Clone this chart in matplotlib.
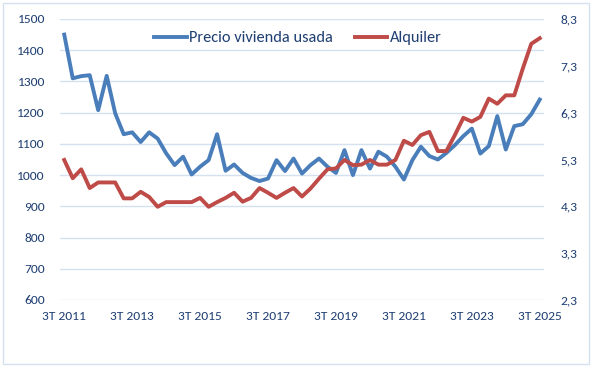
import matplotlib.pyplot as plt
import matplotlib.ticker as mticker

# ------------------------- Data ------------------------- #
years = list(range(2011, 2026))

# precio vivienda usada (eje izquierdo)
precio = [1450, 1310, 1317, 1320, 1208, 1318, 1198, 1131, 1137, 1106,
          1137, 1117, 1070, 1032, 1059, 1002, 1027, 1048, 1131, 1014,
          1034, 1007, 991, 981, 989, 1048, 1013, 1053, 1005, 1032,
          1053, 1027, 1007, 1080, 1000, 1080, 1021, 1075, 1059, 1027,
          986, 1048, 1091, 1061, 1050, 1071, 1096, 1125, 1149, 1069,
          1093, 1189, 1082, 1157, 1163, 1195, 1242]

# alquiler (eje derecho)
alquiler = [5.29, 4.90, 5.09, 4.69, 4.81, 4.81, 4.81, 4.47, 4.47, 4.61,
            4.50, 4.29, 4.39, 4.39, 4.39, 4.39, 4.48, 4.29, 4.39, 4.48,
            4.59, 4.40, 4.48, 4.69, 4.59, 4.48, 4.59, 4.69, 4.51, 4.68,
            4.89, 5.09, 5.11, 5.29, 5.18, 5.19, 5.29, 5.19, 5.19, 5.29,
            5.70, 5.61, 5.82, 5.89, 5.48, 5.48, 5.82, 6.19, 6.11, 6.21,
            6.60, 6.49, 6.67, 6.67, 7.24, 7.77, 7.89]

left_ticks = [600, 700, 800, 900, 1000, 1100, 1200, 1300, 1400, 1500]
right_ticks = [2.3, 3.3, 4.3, 5.3, 6.3, 7.3, 8.3]

# quarter labels 3T 2011 .. 3T 2025
labels = []
for y in years:
    for q in range(1, 5):
        if (y == 2011 and q < 3) or (y == 2025 and q > 3):
            continue
        labels.append(f"{q}T {y}")

# ------------------------- Style ------------------------- #
BLUE = "#4a7ebb"
RED = "#be4b48"
TXT = "#1f3f73"
GRID = "#d6e1f0"

plt.rcParams['font.family'] = ['Carlito', 'Lato', 'DejaVu Sans']

fig = plt.figure(figsize=(5.92, 3.67), dpi=100)
ax = fig.add_axes([60 / 592, 1 - 300 / 367, 484 / 592, 281 / 367])
ax2 = ax.twinx()

x = list(range(len(labels)))
l1, = ax.plot(x, precio, color=BLUE, lw=2.8, solid_joinstyle='round', label='Precio vivienda usada')
l2, = ax2.plot(x, alquiler, color=RED, lw=2.8, solid_joinstyle='round', label='Alquiler')

ax.set_ylim(600, 1500)
ax2.set_ylim(2.3, 8.3)
ax.set_xlim(-0.5, len(labels) - 0.5)
ax.set_yticks(left_ticks)
ax2.set_yticks(right_ticks)
ax2.yaxis.set_major_formatter(mticker.FuncFormatter(lambda v, p: f"{v:.1f}".replace('.', ',')))

ax.set_xticks(x[::8])
ax.set_xticklabels(labels[::8])

ax.grid(axis='y', color=GRID, lw=1)
ax.set_axisbelow(True)
for a in (ax, ax2):
    for s in a.spines.values():
        s.set_visible(False)
    a.tick_params(length=0, colors=TXT, labelsize=9.7)
ax.tick_params(axis='y', pad=11)
ax.tick_params(axis='x', pad=8)
ax2.tick_params(axis='y', pad=12)

fig.legend(handles=[l1, l2], loc='center', bbox_to_anchor=(298 / 592, 1 - 38 / 367),
           ncol=2, frameon=False, fontsize=11.8, labelcolor=TXT,
           handlelength=2.0, handletextpad=0.15, columnspacing=1.3)

# outer frame
fig.patches.append(plt.Rectangle((3 / 592, 3 / 367), 586 / 592, 361 / 367,
                                 transform=fig.transFigure, fill=False,
                                 edgecolor=GRID, lw=1))

fig.savefig("out.png", dpi=100)
